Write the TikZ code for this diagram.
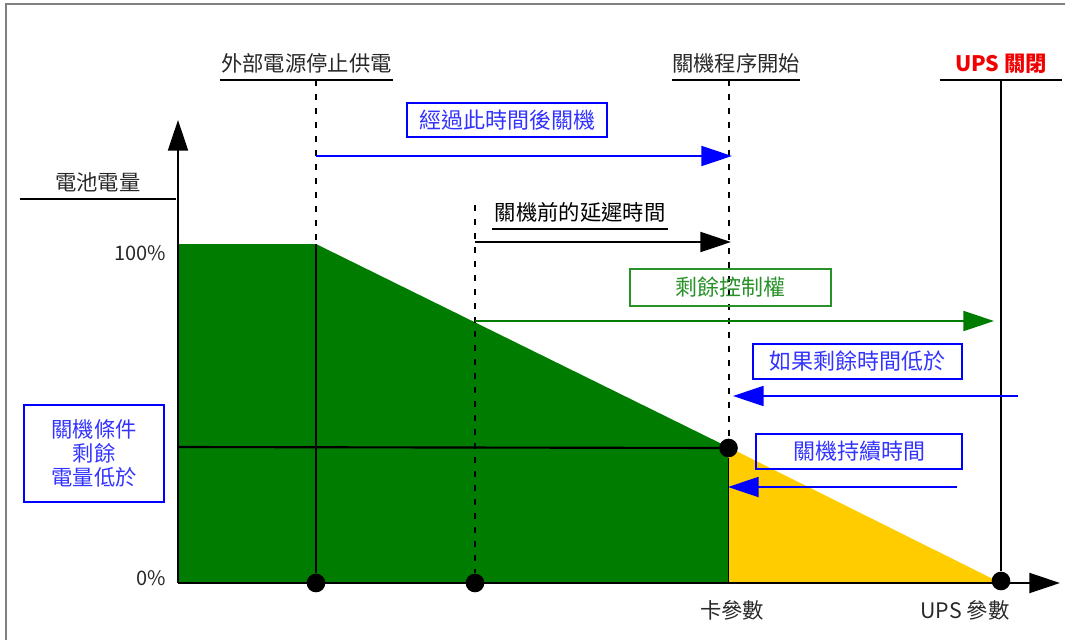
\documentclass[tikz,border=0pt]{standalone}
\usepackage{fontspec}
\setmainfont{Noto Sans CJK TC}
\usetikzlibrary{arrows.meta,positioning}
\definecolor{upsgreen}{RGB}{0,125,0}
\definecolor{upsyellow}{RGB}{255,204,0}
\definecolor{upsblue}{RGB}{0,0,255}
\definecolor{upsbluetext}{RGB}{51,51,255}
\definecolor{upsboxgreen}{RGB}{40,145,40}
\definecolor{upsred}{RGB}{240,0,0}
\definecolor{upsgrey}{RGB}{40,40,40}
\tikzset{
  bigtip/.style={-{Triangle[length=23pt,width=15pt]}},
  guide/.style={line width=1.5pt,dash pattern=on 4.5pt off 6pt},
  marker/.style={line width=1.1pt},
  axisline/.style={line width=1.6pt,bigtip},
  headline/.style={font=\fontsize{16pt}{19pt}\selectfont,text=upsgrey,anchor=south,
    inner xsep=0pt,inner ysep=5pt},
  tagbox/.style={draw,line width=0.9pt,font=\fontsize{16.5pt}{19pt}\selectfont,
    inner sep=0pt,align=center},
  ticktext/.style={font=\fontsize{15pt}{17pt}\selectfont,text=upsgrey},
  dot/.style={circle,fill=black,minimum size=14pt,inner sep=0pt}
}
\begin{document}
\begin{tikzpicture}[x=0.75pt,y=-0.75pt]
  \useasboundingbox (0,0) rectangle (1065,640);
  \draw[gray,line width=1pt] (1065,4) -- (6,4) -- (6,640);

  % charge areas
  \fill[upsgreen] (178,244) -- (316,244) -- (728,447) -- (728,583) -- (178,583) -- cycle;
  \fill[upsyellow] (728,447) -- (1001,583) -- (728,583) -- cycle;

  % headings with their rules
  \node[headline,minimum width=130pt] (cut) at (306.5,80) {外部電源停止供電};
  \node[headline,minimum width=91.5pt] (begin) at (736,80) {關機程序開始};
  \node[headline,minimum width=91.5pt,font=\fontsize{16pt}{19pt}\selectfont\bfseries,
    text=upsred] (off) at (1001,80) {UPS 關閉};
  \node[headline,minimum width=117pt] (charge) at (98,199) {電池電量};
  \node[headline,minimum width=132pt,text=black] (delay) at (580,229) {關機前的延遲時間};
  \foreach \n in {cut,begin,off,charge,delay}
    \draw[line width=1.6pt] (\n.south west) -- (\n.south east);

  % time marks
  \coordinate (cutR) at (316,80);
  \coordinate (cutF) at (316,244);
  \coordinate (delayT) at (475,205);
  \coordinate (beginB) at (729,440);
  \coordinate (origin) at (178,583);
  \node[dot] (dcut) at (316,583) {};
  \node[dot] (ddelay) at (475,583) {};
  \node[dot] (dlow) at (728.5,448) {};
  \node[dot] (doff) at (1001,581) {};
  \draw[guide] (cutR) -- (cutF);
  \draw[marker] (cutF) -- (dcut);
  \draw[guide] (delayT) -- (ddelay);
  \draw[guide] (729,80) -- (beginB);
  \draw[marker] (dlow) -- (dlow |- origin);
  \draw[marker] (1001,80) -- (doff);
  \draw[line width=1.6pt] (178,447) -- (dlow);

  % axes
  \draw[axisline] (origin) -- (1060,583);
  \draw[axisline] (origin) -- (178,120);
  \node[ticktext,anchor=east] (full) at (171,253) {100\%};
  \node[ticktext,anchor=east] (empty) at (171,578) {0\%};
  \node[ticktext,font=\fontsize{16pt}{18pt}\selectfont] (cardp) at (732,610) {卡參數};
  \node[ticktext,font=\fontsize{16pt}{18pt}\selectfont] (upsp) at (965,610) {UPS 參數};

  % boxes
  \node[tagbox,draw=upsblue,text=upsbluetext,minimum width=150pt,minimum height=25.5pt]
    (after) at (507,120) {經過此時間後關機};
  \node[tagbox,draw=upsboxgreen,text=upsboxgreen,minimum width=150.75pt,minimum height=27.75pt]
    (remain) at (730.5,287.5) {剩餘控制權};
  \node[tagbox,draw=upsblue,text=upsbluetext,minimum width=156.75pt,minimum height=26.25pt]
    (iflow) at (857.5,361.5) {如果剩餘時間低於};
  \node[tagbox,draw=upsblue,text=upsbluetext,minimum width=154.5pt,minimum height=26.25pt]
    (lasting) at (859,451.5) {關機持續時間};
  \node[tagbox,draw=upsblue,text=upsbluetext,minimum width=105pt,minimum height=72.75pt,
    font=\fontsize{16pt}{18pt}\selectfont] (cond) at (94,453.5) {關機條件\\剩餘\\電量低於};

  % spans
  \coordinate (afterS) at (316,156);
  \coordinate (afterE) at (732,156);
  \coordinate (delayS) at (475,242);
  \coordinate (delayE) at (731,242);
  \coordinate (remainS) at (475,321);
  \coordinate (remainE) at (994,321);
  \coordinate (iflowS) at (1018,396);
  \coordinate (iflowE) at (733,396);
  \coordinate (lastS) at (957,487);
  \coordinate (lastE) at (728,487);
  \draw[upsblue,line width=1.6pt,bigtip] (afterS) -- (afterE);
  \draw[black,line width=1.6pt,bigtip] (delayS) -- (delayE);
  \draw[upsgreen,line width=1.6pt,bigtip] (remainS) -- (remainE);
  \draw[upsblue,line width=1.6pt,bigtip] (iflowS) -- (iflowE);
  \draw[upsblue,line width=1.6pt,bigtip] (lastS) -- (lastE);
\end{tikzpicture}
\end{document}
